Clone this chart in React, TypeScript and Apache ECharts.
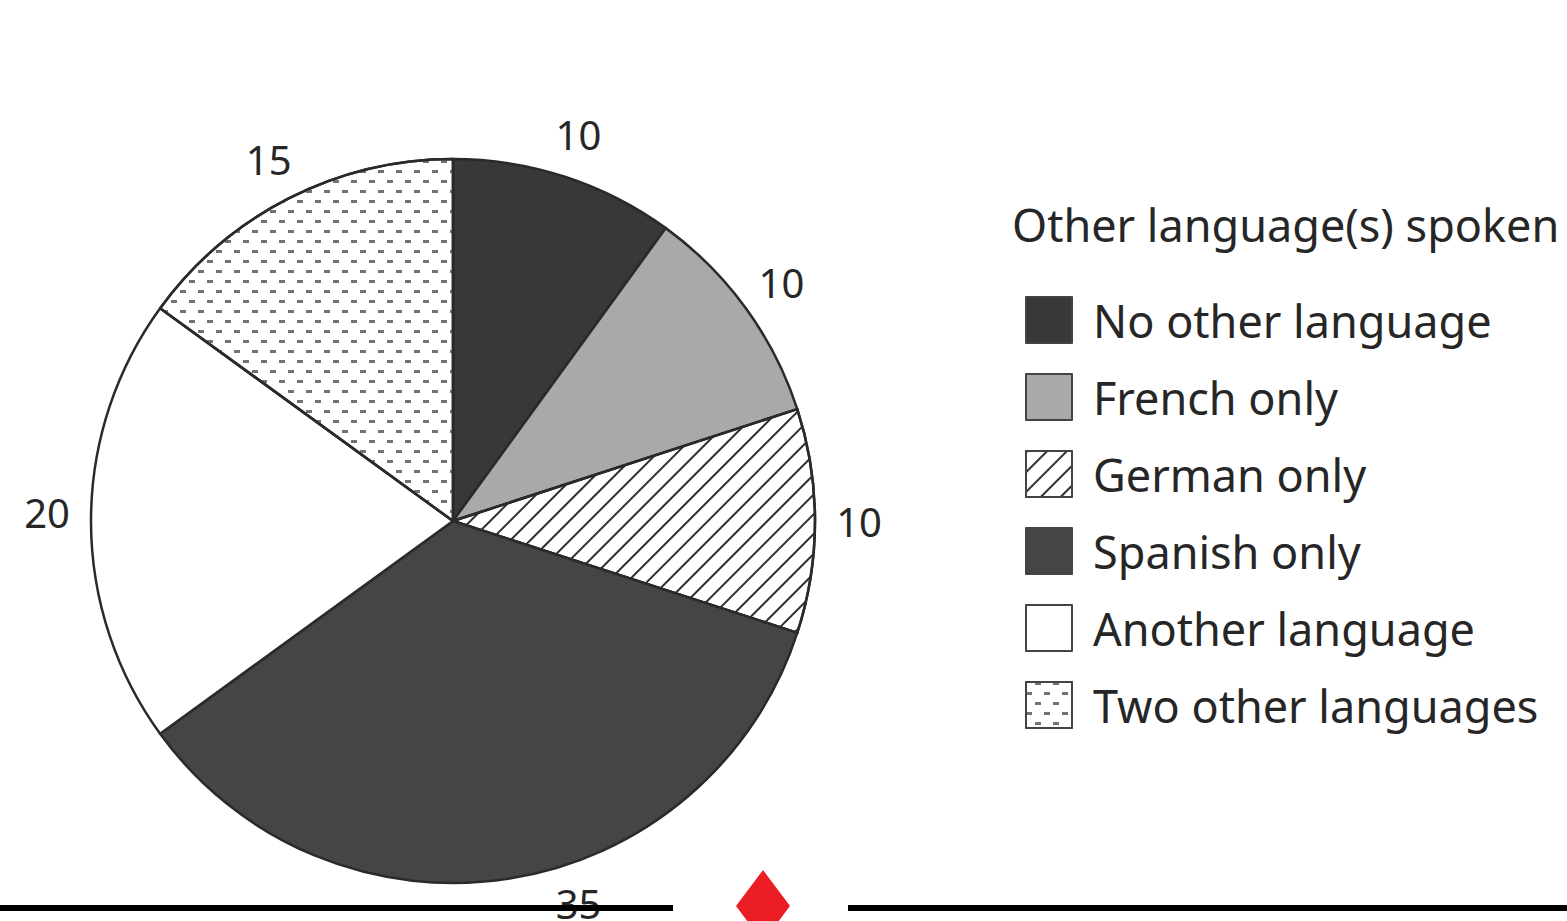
import React, { useEffect, useRef } from "react";
import * as echarts from "echarts";

const categories = [
  "No other language",
  "French only",
  "German only",
  "Spanish only",
  "Another language",
  "Two other languages",
];
const values = [10, 10, 10, 35, 20, 15];
const legendTitle = "Other language(s) spoken";

const FONT = "'Noto Sans', sans-serif";

export default function App() {
  const ref = useRef<HTMLDivElement>(null);
  useEffect(() => {
    if (!ref.current) return;
    const chart = echarts.init(ref.current, null, { renderer: "svg" });
    const styles: any[] = [
      { color: "#383838" },
      { color: "#a9a9a9" },
      {
        color: "#ffffff",
        decal: {
          symbol: "rect",
          symbolSize: 1,
          dashArrayX: [[1, 0]],
          dashArrayY: [2, 12],
          rotation: -Math.PI / 4,
          color: "#2e2e2e",
          backgroundColor: "#ffffff",
        },
      },
      { color: "#454545" },
      { color: "#ffffff" },
      {
        color: "#ffffff",
        decal: {
          symbol: "rect",
          symbolSize: 1,
          dashArrayX: [[6, 12], [0, 9, 6, 3]],
          dashArrayY: [3, 6.4],
          rotation: 0,
          color: "#727272",
          backgroundColor: "#ffffff",
        },
      },
    ];
    const pieData = categories.map((name, i) => ({
      name,
      value: values[i],
      itemStyle: styles[i],
    }));
    const labelOffsets: any = { 3: [62, -19], 4: [0, -9] };
    const labelData = categories.map((name, i) => ({
      name,
      value: values[i],
      label: labelOffsets[i] ? { offset: labelOffsets[i] } : {},
    }));
    chart.setOption({
      animation: false,
      backgroundColor: "#ffffff",
      aria: { enabled: false, decal: { show: false } },
      title: {
        text: legendTitle,
        left: 1007,
        top: 197,
        textStyle: {
          fontFamily: FONT,
          fontSize: 45,
          fontWeight: "normal",
          color: "#262626",
        },
      },
      legend: {
        orient: "vertical",
        left: 1020,
        top: 291,
        itemWidth: 46,
        itemHeight: 46,
        itemGap: 29,
        icon: "rect",
        data: categories,
        itemStyle: { borderColor: "#444444", borderWidth: 2 },
        textStyle: {
          fontFamily: FONT,
          fontSize: 45,
          color: "#262626",
          padding: [0, 0, 0, 16],
        },
      },
      series: [
        {
          type: "pie",
          center: [453, 521],
          radius: [0, 362],
          startAngle: 90,
          clockwise: true,
          silent: true,
          label: { show: false },
          labelLine: { show: false },
          itemStyle: { borderColor: "#2a2a2a", borderWidth: 2.5 },
          data: pieData,
        },
        {
          type: "pie",
          center: [453, 521],
          radius: [0, 806],
          startAngle: 90,
          clockwise: true,
          silent: true,
          legendHoverLink: false,
          itemStyle: { color: "rgba(0,0,0,0)", borderWidth: 0 },
          label: {
            show: true,
            position: "inside",
            formatter: "{c}",
            fontFamily: FONT,
            fontSize: 40,
            color: "#262626",
          },
          labelLine: { show: false },
          data: labelData,
          z: 5,
        },
      ],
      graphic: [
        {
          type: "line",
          shape: { x1: 0, y1: 908, x2: 673, y2: 908 },
          style: { stroke: "#000000", lineWidth: 6 },
          z: 100,
        },
        {
          type: "line",
          shape: { x1: 848, y1: 908, x2: 1567, y2: 908 },
          style: { stroke: "#000000", lineWidth: 6 },
          z: 100,
        },
        {
          type: "polygon",
          shape: {
            points: [
              [763, 870],
              [790, 906],
              [763, 942],
              [736, 906],
            ],
          },
          style: { fill: "#ec1c24" },
          z: 100,
        },
      ],
    });
    return () => chart.dispose();
  }, []);
  return (
    <div
      ref={ref}
      style={{ position: "fixed", left: 0, top: 0, width: 1567, height: 921 }}
    />
  );
}
